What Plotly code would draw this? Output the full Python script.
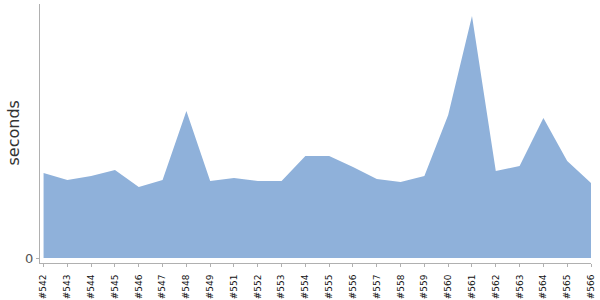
import plotly.graph_objects as go

builds = ["#542", "#543", "#544", "#545", "#546", "#547", "#548", "#549", "#551", "#552",
          "#553", "#554", "#555", "#556", "#557", "#558", "#559", "#560", "#561", "#562",
          "#563", "#564", "#565", "#566"]
seconds = [42.5, 39, 41, 44, 35.5, 39, 73.5, 38.5, 40, 38.5,
           38.5, 51, 51, 45.5, 39.5, 38, 41, 71.5, 121, 43.5,
           46, 70, 48.5, 37.5]

fig = go.Figure()
fig.add_trace(go.Scatter(
    x=list(range(len(builds))), y=seconds, mode="lines", fill="tozeroy",
    line=dict(width=0, color="#8fb1da"), fillcolor="#8fb1da",
    hoverinfo="skip", showlegend=False,
))

axis_col = "#b0b0b0"
plot_w = 600 - 40 - 9
fig.update_layout(
    width=600, height=300,
    margin=dict(l=40, r=9, t=4, b=37),
    paper_bgcolor="white", plot_bgcolor="white",
    font=dict(family="DejaVu Sans", color="#222"),
    xaxis=dict(
        range=[-0.15, len(builds) - 1], automargin=False,
        tickmode="array", tickvals=list(range(len(builds))), ticktext=builds,
        tickangle=-90, tickfont=dict(size=9, color="#111"),
        ticklabelstandoff=4,
        showgrid=False, zeroline=False,
        showline=True, linecolor=axis_col, linewidth=1,
        ticks="outside", ticklen=3, tickcolor=axis_col,
    ),
    yaxis=dict(
        range=[-2.5, 127], automargin=False,
        tickmode="array", tickvals=[0], ticktext=["0"],
        tickfont=dict(size=13, color="#555"),
        showgrid=False, zeroline=False,
        showline=True, linecolor=axis_col, linewidth=1,
        ticks="outside", ticklen=3, tickcolor=axis_col,
    ),
    annotations=[dict(
        text="seconds", textangle=-90, showarrow=False,
        xref="paper", yref="paper", x=-(40 - 13) / plot_w, y=0.5,
        xanchor="center", yanchor="middle",
        font=dict(size=16, color="#333", family="DejaVu Sans"),
    )],
)

fig.write_html("out.html")
